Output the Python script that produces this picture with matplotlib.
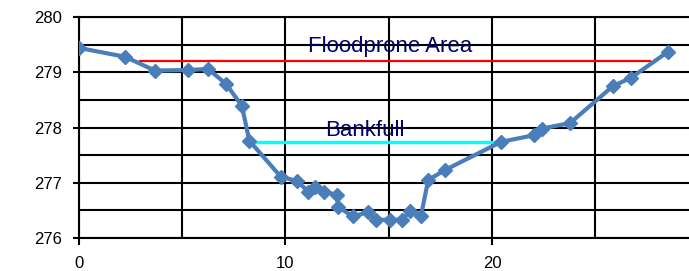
import matplotlib
matplotlib.use("Agg")
import matplotlib.pyplot as plt
from matplotlib.ticker import MultipleLocator

plt.rcParams['font.family'] = ['Liberation Sans', 'DejaVu Sans']

# cross-section survey: station (ft) vs elevation
station = [0.0, 2.23, 3.68, 5.28, 6.25, 7.12, 7.89, 8.25, 9.77, 10.55, 11.11,
           11.43, 11.88, 12.48, 12.56, 13.26, 14.01, 14.37, 15.06, 15.63,
           16.03, 16.56, 16.91, 17.72, 20.44, 22.03, 22.42, 23.78, 25.86,
           26.73, 28.52]
elevation = [279.44, 279.28, 279.03, 279.04, 279.06, 278.79, 278.39, 277.76,
             277.11, 277.03, 276.84, 276.93, 276.84, 276.78, 276.56, 276.39,
             276.47, 276.33, 276.33, 276.33, 276.48, 276.40, 277.05, 277.23,
             277.74, 277.86, 277.98, 278.08, 278.75, 278.90, 279.37]

flood_x = [2.95, 27.65]
flood_y = 279.20
bank_x = [8.5, 20.25]
bank_y = 277.73

fig = plt.figure(figsize=(6.89, 2.71), dpi=100)
ax = fig.add_axes([79/689, 33/271, 1 - 79/689, 221/271])

ax.set_xlim(0, 29.54)
ax.set_ylim(276, 280)
ax.xaxis.set_major_locator(MultipleLocator(10))
ax.xaxis.set_minor_locator(MultipleLocator(5))
ax.yaxis.set_major_locator(MultipleLocator(1))
ax.yaxis.set_minor_locator(MultipleLocator(0.5))
ax.grid(True, which='both', color='black', linewidth=1.5)
ax.set_axisbelow(True)

ax.tick_params(axis='x', which='major', length=5, width=1.5, pad=8, labelsize=12)
ax.tick_params(axis='y', which='major', length=4, width=1.5, pad=8, labelsize=12)
ax.tick_params(which='minor', length=0)
for s in ['left', 'bottom', 'top']:
    ax.spines[s].set_linewidth(1.5)
ax.spines['right'].set_visible(False)

ax.plot(flood_x, [flood_y, flood_y], color='#FF0000', linewidth=1.6, zorder=3)
ax.plot(bank_x, [bank_y, bank_y], color='#00FFFF', linewidth=2.4, zorder=3)
ax.plot(station, elevation, color='#4A7EBB', linewidth=3, marker='D',
        markersize=7, zorder=4)

ax.text(15.06, 279.46, 'Floodprone Area', color='#000066', fontsize=16,
        ha='center', va='center', zorder=5)
ax.text(13.85, 277.95, 'Bankfull', color='#000066', fontsize=16,
        ha='center', va='center', zorder=5)

fig.savefig('out.png', dpi=100)
